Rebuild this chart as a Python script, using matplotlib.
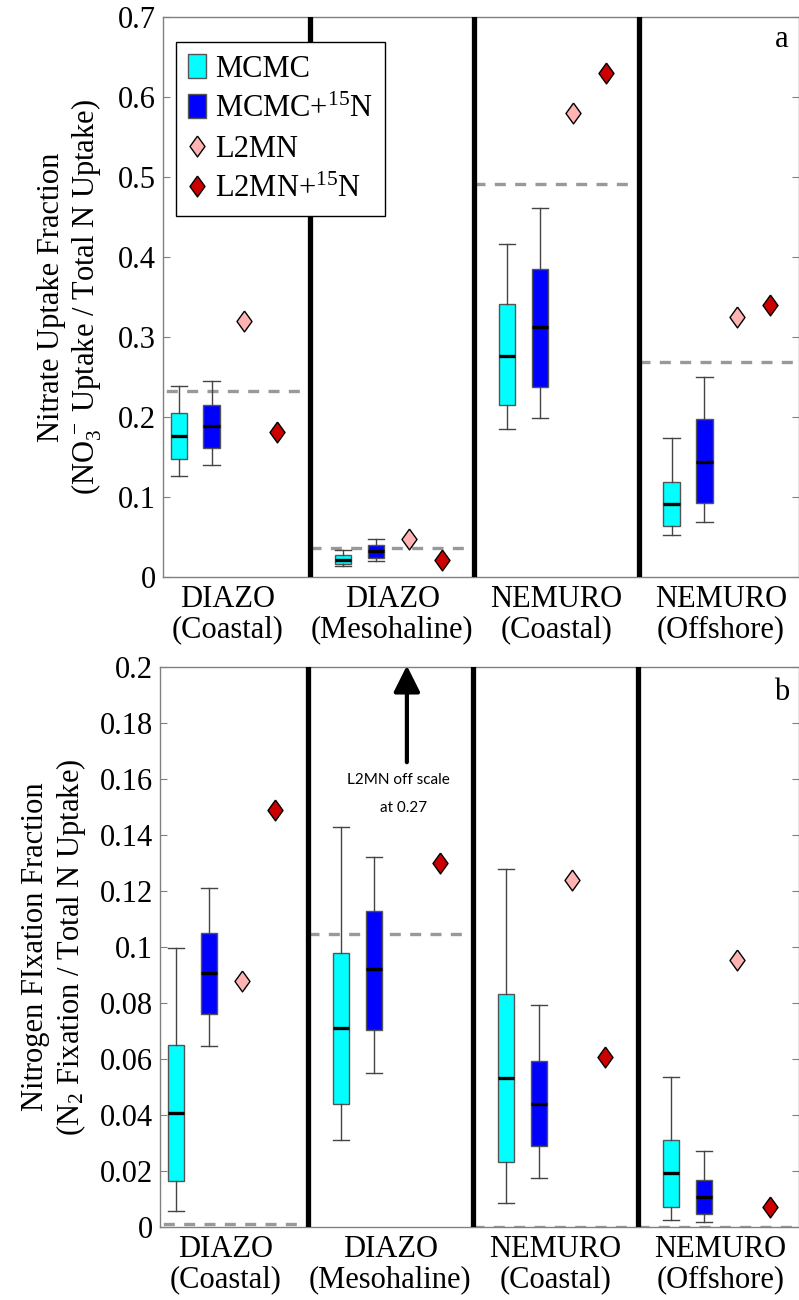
import numpy as np
import matplotlib
matplotlib.use("Agg")
import matplotlib.pyplot as plt
from matplotlib.patches import Patch
from matplotlib.lines import Line2D
from matplotlib.ticker import FuncFormatter

plt.rcParams["font.family"] = ["Liberation Serif", "DejaVu Serif"]
plt.rcParams["mathtext.fontset"] = "custom"
plt.rcParams["mathtext.rm"] = "Liberation Serif"
plt.rcParams["mathtext.it"] = "Liberation Serif:italic"
plt.rcParams["mathtext.default"] = "rm"

# ---------------------------------------------------------------------
# Data
# ---------------------------------------------------------------------
groups = ["DIAZO\n(Coastal)", "DIAZO\n(Mesohaline)", "NEMURO\n(Coastal)", "NEMURO\n(Offshore)"]

# panel a: nitrate uptake fraction
a_mcmc_lo = [0.126, 0.014, 0.185, 0.0525]
a_mcmc_q1 = [0.1475, 0.016, 0.215, 0.064]
a_mcmc_med = [0.176, 0.021, 0.276, 0.091]
a_mcmc_q3 = [0.205, 0.027, 0.341, 0.119]
a_mcmc_hi = [0.239, 0.034, 0.416, 0.174]

a_n15_lo = [0.140, 0.020, 0.199, 0.069]
a_n15_q1 = [0.161, 0.024, 0.2375, 0.0925]
a_n15_med = [0.189, 0.0325, 0.3125, 0.144]
a_n15_q3 = [0.215, 0.040, 0.385, 0.1975]
a_n15_hi = [0.245, 0.047, 0.461, 0.250]

a_l2mn = [0.320, 0.0475, 0.580, 0.325]
a_l2mn_n15 = [0.181, 0.021, 0.630, 0.340]
a_ref = [0.2325, 0.036, 0.491, 0.269]

# panel b: nitrogen fixation fraction
b_mcmc_lo = [0.0057, 0.031, 0.0086, 0.0025]
b_mcmc_q1 = [0.0164, 0.044, 0.0232, 0.0071]
b_mcmc_med = [0.0407, 0.071, 0.0532, 0.0193]
b_mcmc_q3 = [0.065, 0.098, 0.0832, 0.031]
b_mcmc_hi = [0.0996, 0.143, 0.128, 0.0536]

b_n15_lo = [0.0646, 0.055, 0.0175, 0.0018]
b_n15_q1 = [0.076, 0.0704, 0.029, 0.0046]
b_n15_med = [0.0907, 0.092, 0.0439, 0.0107]
b_n15_q3 = [0.105, 0.113, 0.0593, 0.0168]
b_n15_hi = [0.121, 0.132, 0.0794, 0.0271]

b_l2mn = [0.0879, 0.27, 0.124, 0.0954]   # 0.27 is off scale
b_l2mn_n15 = [0.149, 0.130, 0.0607, 0.0071]
b_ref = [0.001, 0.1046, 0.0, 0.0]

# ---------------------------------------------------------------------
# Styling
# ---------------------------------------------------------------------
c_mcmc = "#00FFFF"
c_n15 = "#0000FF"
c_l2mn = "#FFB3B3"
c_l2mn_n15 = "#CC0000"
diamond = [(0, 1), (0.72, 0), (0, -1), (-0.72, 0), (0, 1)]
FS = 22
SERIF = "Liberation Serif"


def box_stats(lo, q1, med, q3, hi):
    return [dict(whislo=a, q1=b, med=c, q3=d, whishi=e, fliers=[])
            for a, b, c, d, e in zip(lo, q1, med, q3, hi)]


def draw_panel(ax, s_mcmc, s_n15, l2mn, l2mn_n15, ref, ytop, ystep):
    g = np.arange(1, len(groups) + 1)
    for stats, pos, col in [(s_mcmc, g - 0.3, c_mcmc), (s_n15, g - 0.1, c_n15)]:
        ax.bxp(stats, positions=pos, widths=0.1, capwidths=0.1,
               patch_artist=True, showfliers=False, manage_ticks=False,
               boxprops=dict(facecolor=col, edgecolor="#555555", lw=1),
               whiskerprops=dict(color="#444444", lw=1),
               capprops=dict(color="#444444", lw=1),
               medianprops=dict(color="black", lw=2.4), zorder=3)
    ax.plot(g + 0.1, l2mn, ls="none", marker=diamond, ms=15, mfc=c_l2mn,
            mec="black", mew=1, zorder=4)
    ax.plot(g + 0.3, l2mn_n15, ls="none", marker=diamond, ms=15, mfc=c_l2mn_n15,
            mec="black", mew=1, zorder=4)
    ax.hlines(ref, g - 0.5, g + 0.5, colors="#999999", lw=2.4,
              linestyles=(0, (3.3, 2.8)), zorder=2)
    for xs in g[:-1] + 0.5:
        ax.axvline(xs, color="black", lw=3.8, zorder=5)

    ax.set_xlim(0.604, 4.476)
    ax.set_ylim(0, ytop)
    ax.set_yticks(np.arange(0, ytop + ystep / 2, ystep))
    ax.yaxis.set_major_formatter(FuncFormatter(lambda v, p: f"{v:g}"))
    ax.set_xticks(g)
    ax.set_xticklabels(groups, fontsize=FS, family=SERIF, linespacing=1.05)
    ax.tick_params(axis="x", length=0, pad=6)
    ax.tick_params(axis="y", direction="in", length=5, color="#808080",
                   right=True, labelsize=FS, pad=5)
    for lab in ax.get_yticklabels():
        lab.set_family(SERIF)
    for sp in ax.spines.values():
        sp.set_color("#808080")
        sp.set_linewidth(1)


fig = plt.figure(figsize=(7.99, 13.0), dpi=100)
ax_a = fig.add_axes([163 / 799, 1 - 577 / 1300, 636 / 799, 560 / 1300])
ax_b = fig.add_axes([160 / 799, 1 - 1227 / 1300, 639 / 799, 560 / 1300])

draw_panel(ax_a,
           box_stats(a_mcmc_lo, a_mcmc_q1, a_mcmc_med, a_mcmc_q3, a_mcmc_hi),
           box_stats(a_n15_lo, a_n15_q1, a_n15_med, a_n15_q3, a_n15_hi),
           a_l2mn, a_l2mn_n15, a_ref, 0.7, 0.1)
draw_panel(ax_b,
           box_stats(b_mcmc_lo, b_mcmc_q1, b_mcmc_med, b_mcmc_q3, b_mcmc_hi),
           box_stats(b_n15_lo, b_n15_q1, b_n15_med, b_n15_q3, b_n15_hi),
           b_l2mn, b_l2mn_n15, b_ref, 0.2, 0.02)

ax_a.set_ylabel("Nitrate Uptake Fraction\n(NO$_3^{\\,-}$ Uptake / Total N Uptake)",
                fontsize=FS, family=SERIF, linespacing=1.15)
ax_a.yaxis.set_label_coords(-0.093, 0.5)
ax_b.set_ylabel("Nitrogen FIxation Fraction\n(N$_2$ Fixation / Total N Uptake)",
                fontsize=FS, family=SERIF, linespacing=1.15)
ax_b.yaxis.set_label_coords(-0.113, 0.5)

ax_a.text(0.973, 0.959, "a", transform=ax_a.transAxes, fontsize=FS,
          family=SERIF, ha="center", va="center")
ax_b.text(0.973, 0.955, "b", transform=ax_b.transAxes, fontsize=FS,
          family=SERIF, ha="center", va="center")

# off-scale marker note
ax_b.annotate("", xy=(2.1, 0.2015), xytext=(2.1, 0.165), annotation_clip=False,
              arrowprops=dict(arrowstyle="-|>,head_length=0.5,head_width=0.25",
                              mutation_scale=32, lw=3, color="black"), zorder=6)
ax_b.text(2.05, 0.1596, "L2MN off scale", family="Lato", fontsize=11,
          ha="center", va="center")
ax_b.text(2.08, 0.1496, "at 0.27", family="Lato", fontsize=11,
          ha="center", va="center")

handles = [
    Patch(facecolor=c_mcmc, edgecolor="#555555"),
    Patch(facecolor=c_n15, edgecolor="#555555"),
    Line2D([], [], ls="none", marker=diamond, ms=15, mfc=c_l2mn, mec="black"),
    Line2D([], [], ls="none", marker=diamond, ms=15, mfc=c_l2mn_n15, mec="black"),
]
labels = ["MCMC", "MCMC+$^{15}$N", "L2MN", "L2MN+$^{15}$N"]
leg = ax_a.legend(handles, labels, loc="upper left", bbox_to_anchor=(0.02, 0.955),
                  prop=dict(family=SERIF, size=FS), frameon=True, fancybox=False,
                  edgecolor="black", framealpha=1, handlelength=0.6,
                  handleheight=0.8, handletextpad=0.3, labelspacing=0.35,
                  borderpad=0.4, borderaxespad=0)
leg.get_frame().set_linewidth(1)

fig.savefig("out.png", dpi=100)
